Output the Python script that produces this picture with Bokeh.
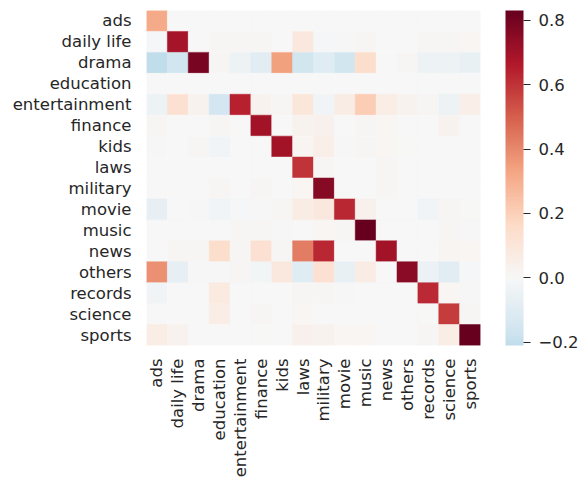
import math
import numpy as np
from bokeh.plotting import figure
from bokeh.models import (ColumnDataSource, LinearColorMapper, ColorBar,
                          FixedTicker, CustomJSTickFormatter)
from bokeh.transform import transform
from bokeh.embed import file_html
from bokeh.resources import INLINE

categories = ["ads", "daily life", "drama", "education", "entertainment",
              "finance", "kids", "laws", "military", "movie", "music",
              "news", "others", "records", "science", "sports"]

row_ads           = [0.31, 0, 0, 0, 0, 0, 0, 0, 0, 0, 0, 0, 0, 0, 0, 0]
row_daily_life    = [-0.01, 0.69, 0, 0.01, 0.01, 0.01, 0, 0.09, -0.01, -0.005, 0.01, 0, 0, 0.01, 0.01, 0.015]
row_drama         = [-0.21, -0.16, 0.79, 0.01, -0.04, -0.09, 0.34, -0.16, -0.10, -0.16, 0.15, 0, 0.01, -0.04, -0.04, -0.06]
row_education     = [0, 0, 0, 0, 0, 0, 0, 0, 0, 0, 0, 0, 0, 0, 0, 0]
row_entertainment = [-0.04, 0.13, 0.03, -0.15, 0.64, 0.03, 0.01, 0.10, -0.03, 0.07, 0.21, 0.06, 0.03, 0.01, -0.04, 0.05]
row_finance       = [0.01, 0, 0, 0.01, 0, 0.70, 0, 0.03, 0.04, 0, 0.01, 0.015, 0, 0, 0.03, 0]
row_kids          = [-0.005, 0, 0.01, -0.03, 0, 0, 0.70, 0.02, 0.05, -0.005, 0.01, 0.015, 0.005, 0, 0, 0]
row_laws          = [0, 0, 0, 0, 0, 0, 0, 0.60, 0.01, 0, 0, 0.01, 0, 0, 0, 0]
row_military      = [0, 0, 0, 0.01, 0, 0.01, 0, 0.015, 0.76, 0, 0, 0.01, 0, 0, 0, 0]
row_movie         = [-0.07, 0, -0.005, -0.03, -0.01, -0.005, 0.01, 0.07, 0.09, 0.63, 0.04, 0, 0, -0.03, 0.01, 0.005]
row_music         = [0, 0, 0, 0, 0.01, 0.01, -0.005, 0, 0.015, 0.01, 0.83, 0, 0, 0, 0.01, -0.003]
row_news          = [0, 0.01, 0.01, 0.15, 0.01, 0.13, 0.01, 0.43, 0.63, 0, 0, 0.70, 0, 0, 0.02, 0.015]
row_others        = [0.38, -0.07, -0.005, -0.005, 0.01, -0.02, 0.09, -0.10, 0.13, -0.06, 0.07, 0, 0.75, -0.05, -0.09, -0.01]
row_records       = [-0.03, 0, 0, 0.08, 0, 0, 0, 0.01, 0.01, -0.005, 0, 0, 0, 0.62, 0.015, -0.003]
row_science       = [0, 0, 0, 0.06, 0, 0.01, 0, 0.015, 0, 0, 0, 0, 0, 0.005, 0.58, 0.01]
row_sports        = [0.06, 0.03, 0, 0, 0, 0.005, 0, 0.04, 0.03, 0.015, 0.015, 0, 0, 0.01, 0.06, 0.83]

matrix = [row_ads, row_daily_life, row_drama, row_education, row_entertainment,
          row_finance, row_kids, row_laws, row_military, row_movie, row_music,
          row_news, row_others, row_records, row_science, row_sports]

cb_ticks = [-0.2, 0.0, 0.2, 0.4, 0.6, 0.8]

rows, cols, vals = [], [], []
for i, r in enumerate(categories):
    for j, c in enumerate(categories):
        rows.append(r)
        cols.append(c)
        vals.append(matrix[i][j])

vmin, vmax = min(vals), max(vals)

# matplotlib RdBu_r anchors, recentred at 0 like seaborn's center=0
anchors = ["#053061", "#2166ac", "#4393c3", "#92c5de", "#d1e5f0", "#f7f7f7",
           "#fddbc7", "#f4a582", "#d6604d", "#b2182b", "#67001f"]
anc = np.array([[int(h[k:k + 2], 16) for k in (1, 3, 5)] for h in anchors], float)


def cmap(pos):
    t = pos * 10
    i = min(int(np.floor(t)), 9)
    f = t - i
    c = anc[i] * (1 - f) + anc[i + 1] * f
    return "#%02x%02x%02x" % tuple(int(round(v)) for v in c)


vrange = max(vmax, -vmin)
cmin, cmax = 0.5 + vmin / (2 * vrange), 0.5 + vmax / (2 * vrange)
palette = [cmap(p_) for p_ in np.linspace(cmin, cmax, 256)]
mapper = LinearColorMapper(palette=palette, low=vmin, high=vmax)

src = ColumnDataSource(dict(row=rows, col=cols, val=vals))

FONT = "DejaVu Sans"
TXT = "#262626"
FS = "16.5px"

p = figure(x_range=categories, y_range=list(reversed(categories)),
           width=581, height=480,
           output_backend="svg", toolbar_location=None,
           min_border_top=10, min_border_left=146, min_border_right=99,
           min_border_bottom=135)

p.rect(x="col", y="row", width=1, height=1, source=src,
       fill_color=transform("val", mapper),
       line_color=transform("val", mapper), line_width=0.5)

p.grid.visible = False
p.outline_line_color = None
for ax in (p.xaxis, p.yaxis):
    ax.axis_line_color = None
    ax.major_tick_line_color = None
    ax.minor_tick_line_color = None
    ax.major_tick_out = 0
    ax.major_tick_in = 0
    ax.major_label_text_font = FONT
    ax.major_label_text_font_size = FS
    ax.major_label_text_color = TXT
p.yaxis.major_label_standoff = 15
p.xaxis.major_label_standoff = 13
p.xaxis.major_label_orientation = math.pi / 2

cb = ColorBar(color_mapper=mapper, ticker=FixedTicker(ticks=cb_ticks),
              formatter=CustomJSTickFormatter(code="return tick.toFixed(1).replace('-', '\u2212')"),
              width=18, height=335, padding=0, margin=0, location=(25, 0),
              bar_line_color=None, border_line_color=None,
              background_fill_color=None,
              major_tick_out=7, major_tick_in=0,
              major_tick_line_color=TXT, major_tick_line_width=1.2,
              minor_tick_line_color=None,
              label_standoff=8,
              major_label_text_font=FONT,
              major_label_text_font_size=FS,
              major_label_text_color=TXT)
p.add_layout(cb, "right")

open("out.html", "w").write(file_html(p, INLINE))
